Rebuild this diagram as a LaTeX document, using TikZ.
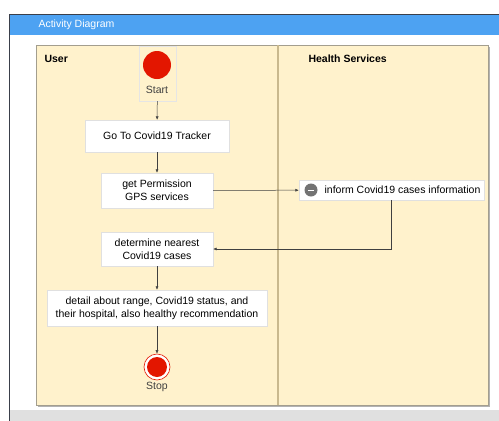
\documentclass[tikz,border=0pt]{standalone}
\usepackage{fontspec}
\setmainfont{Liberation Sans}
\usetikzlibrary{positioning, arrows.meta, shadows}
\definecolor{lanefill}{HTML}{FFF2CC}
\definecolor{laneline}{HTML}{A39E8E}
\definecolor{lanediv}{HTML}{C9B98E}
\definecolor{titleblue}{HTML}{4DA2F2}
\definecolor{markred}{HTML}{E31600}
\definecolor{bargray}{HTML}{E0E0E0}
\definecolor{framedark}{HTML}{3A3F4A}
\tikzset{
	every text node part/.style={
		align=center
	},
	action/.style={
		rectangle,
		fill=white,
		draw=black!12,
		line width=0.3pt,
		inner sep=0pt,
		font=\fontsize{10.5}{13}\selectfont,
		drop shadow={shadow xshift=1.2pt, shadow yshift=-1.2pt, fill=black!22, opacity=0.6}
	},
	lanetitle/.style={
		anchor=base west,
		font=\fontsize{10.5}{13}\selectfont\bfseries
	},
	marker/.style={
		circle,
		fill=markred,
		inner sep=0pt,
		minimum size=#1
	},
	caption/.style={
		font=\fontsize{10.5}{13}\selectfont,
		text=black!75
	},
	flow/.style={
		draw=black!75,
		line width=0.5pt,
		-{Latex[length=3.5pt, width=3pt]}
	},
}

\begin{document}
\begin{tikzpicture}[x=1pt, y=-1pt]
		\useasboundingbox (0,0) rectangle (499,421);
		% window
		\fill[white] (9,14) rectangle (499,410);
		\fill[bargray] (9,410) rectangle (499,421);
		\fill[titleblue] (9,14) rectangle (499,35);
		\draw[framedark, line width=0.8pt] (9,421) -- (9,14) -- (499,14);
		\node (title) [anchor=west, text=white, font=\fontsize{10.5}{13}\selectfont] at (35,25) {Activity Diagram};
		
		% swimlanes
		\fill[black!30] (38,47) rectangle (490,407);
		\node (lanes) [rectangle, fill=lanefill, draw=laneline, line width=0.8pt, minimum width=452pt, minimum height=360pt, inner sep=0pt] at (262,225) {};
		\draw[lanediv, line width=1.2pt] (278,45) -- (278,405);
		\node (user) [lanetitle] at (41,62) {User};
		\node (health) [lanetitle] at (305,62) {Health Services};
		
		% start
		\node (startbox) [rectangle, draw=black!10, line width=0.4pt, minimum width=37pt, minimum height=55pt, inner sep=0pt] at (157.5,73.5) {};
		\node (startdot) [marker=28pt] at (157,65) {};
		\node (startlbl) [caption] at (157,90) {Start};
		
		% actions
		\node (tracker) [action, minimum width=144pt, minimum height=32pt] at (157,136) {Go To Covid19 Tracker};
		\node (permission) [action, minimum width=112pt, minimum height=35pt] at (157,190.5) {get Permission\\GPS services};
		\node (inform) [action, minimum width=185pt, minimum height=20pt] at (391.5,190) {\hspace{22pt}inform Covid19 cases information};
		\node (icon) [circle, fill=black!55, inner sep=0pt, minimum size=13pt] at (311,190) {};
		\draw[white, line width=0.8pt] (icon.center) ++(-3,0) -- ++(6,0);
		\node (nearest) [action, minimum width=112pt, minimum height=34pt] at (157,249) {determine nearest\\Covid19 cases};
		\node (detail) [action, minimum width=220pt, minimum height=36pt] at (157,308) {detail about range, Covid19 status, and\\their hospital, also healthy recommendation};
		
		% stop
		\node (stop) [circle, draw=markred, fill=white, line width=0.6pt, inner sep=0pt, minimum size=26pt] at (157,367) {};
		\node (stopdot) [marker=20pt] at (stop) {};
		\node (stoplbl) [caption] at (157,387) {Stop};
		
		\draw[flow] (startbox) to (tracker);
		\draw[flow] (tracker) to (permission);
		\draw[flow] (permission) to (inform);
		\draw[flow] (inform.south) |- (nearest.east);
		\draw[flow] (nearest) to (detail);
		\draw[flow] (detail) to (stop);
\end{tikzpicture}
\end{document}
